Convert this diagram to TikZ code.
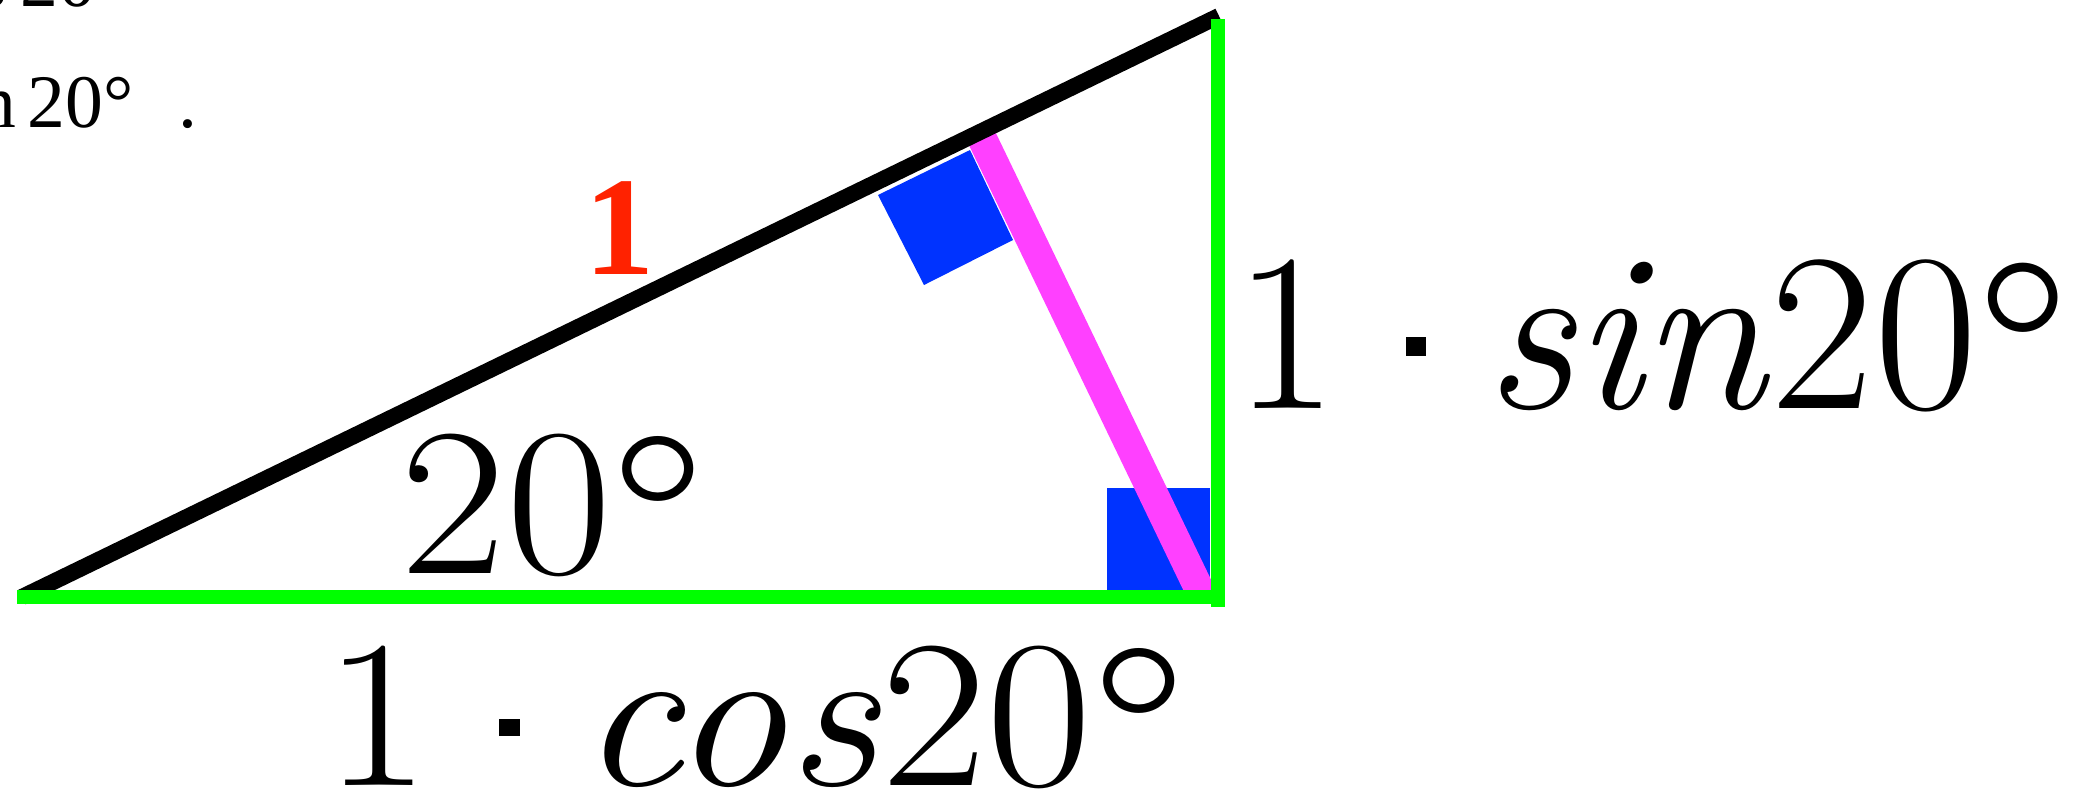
\documentclass[tikz,border=0pt]{standalone}
\usepackage{fontspec}
\usepackage{graphicx}
\newfontfamily\timesfont{Liberation Serif}
\definecolor{lgreen}{RGB}{0,255,0}
\definecolor{sqblue}{RGB}{0,51,255}
\definecolor{pmagenta}{RGB}{255,64,255}
\definecolor{lred}{RGB}{255,34,0}
\newcommand{\mydeg}{\raisebox{-0.16em}{\scalebox{1.18}{°}}}
\newcommand{\mydot}{\hspace{0.3em}\raisebox{0.23em}{\rule{0.09em}{0.085em}}\hspace{0.26em}}
\tikzset{
  biglabel/.style={inner sep=0pt, font=\fontsize{64}{76}\selectfont},
  midlabel/.style={inner sep=0pt, font=\fontsize{60}{72}\selectfont},
  smalltext/.style={inner sep=0pt, font=\timesfont\fontsize{21.5}{26}\selectfont},
  leg/.style={draw=lgreen, line width=4.2pt, line cap=butt},
  hyp/.style={draw=black, line width=4.6pt, line cap=butt},
  alt/.style={draw=pmagenta, line width=8.4pt, line cap=butt},
  rightmark/.style={fill=sqblue}
}
\begin{document}
\begin{tikzpicture}[x=0.01cm, y=-0.01cm]
\useasboundingbox (0,0) rectangle (2078,796);
% vertices
\coordinate (A) at (22,597);
\coordinate (B) at (1219,16);
\coordinate (Hl) at (17,597);
\coordinate (Hr) at (1224,597);
\coordinate (Vt) at (1218,19);
\coordinate (Vb) at (1218,607);
\coordinate (F) at (979,132);
\coordinate (G) at (1203,597);
% right-angle marks
\fill[rightmark] (1107,488) rectangle (1210,590);
\fill[rightmark] (970,150) -- (878,195) -- (924,285) -- (1013,240) -- cycle;
% altitude
\draw[alt] (F) -- (G);
% hypotenuse
\draw[hyp] (A) -- (B);
% legs
\draw[leg] (Hl) -- (Hr);
\draw[leg] (Vt) -- (Vb);
% labels
\node[midlabel, anchor=base west] (ang) at (400,573) {\scalebox{1.09}[1]{20\mydeg}};
\node[biglabel, anchor=base west] (sinl) at (1234,408) {1\mydot\textit{sin}20\mydeg};
\node[midlabel, anchor=base west] (cosl) at (324,785) {\scalebox{1.09}[1]{1\mydot\textit{cos}20\mydeg}};
\node[inner sep=0pt, anchor=base, text=lred, font=\timesfont\bfseries\fontsize{40}{48}\selectfont] (one) at (620,274) {1};
% cropped text at top left
\node[smalltext, anchor=base west] (t1) at (20,6) {20};
\node[smalltext, anchor=base east] (t0) at (8,6) {s};
\node[smalltext, anchor=base west] (t2) at (27,127) {20°};
\node[smalltext, anchor=base east] (t3) at (17,127) {n};
\node[smalltext, anchor=base] (t4) at (188,127) {.};
\end{tikzpicture}
\end{document}
